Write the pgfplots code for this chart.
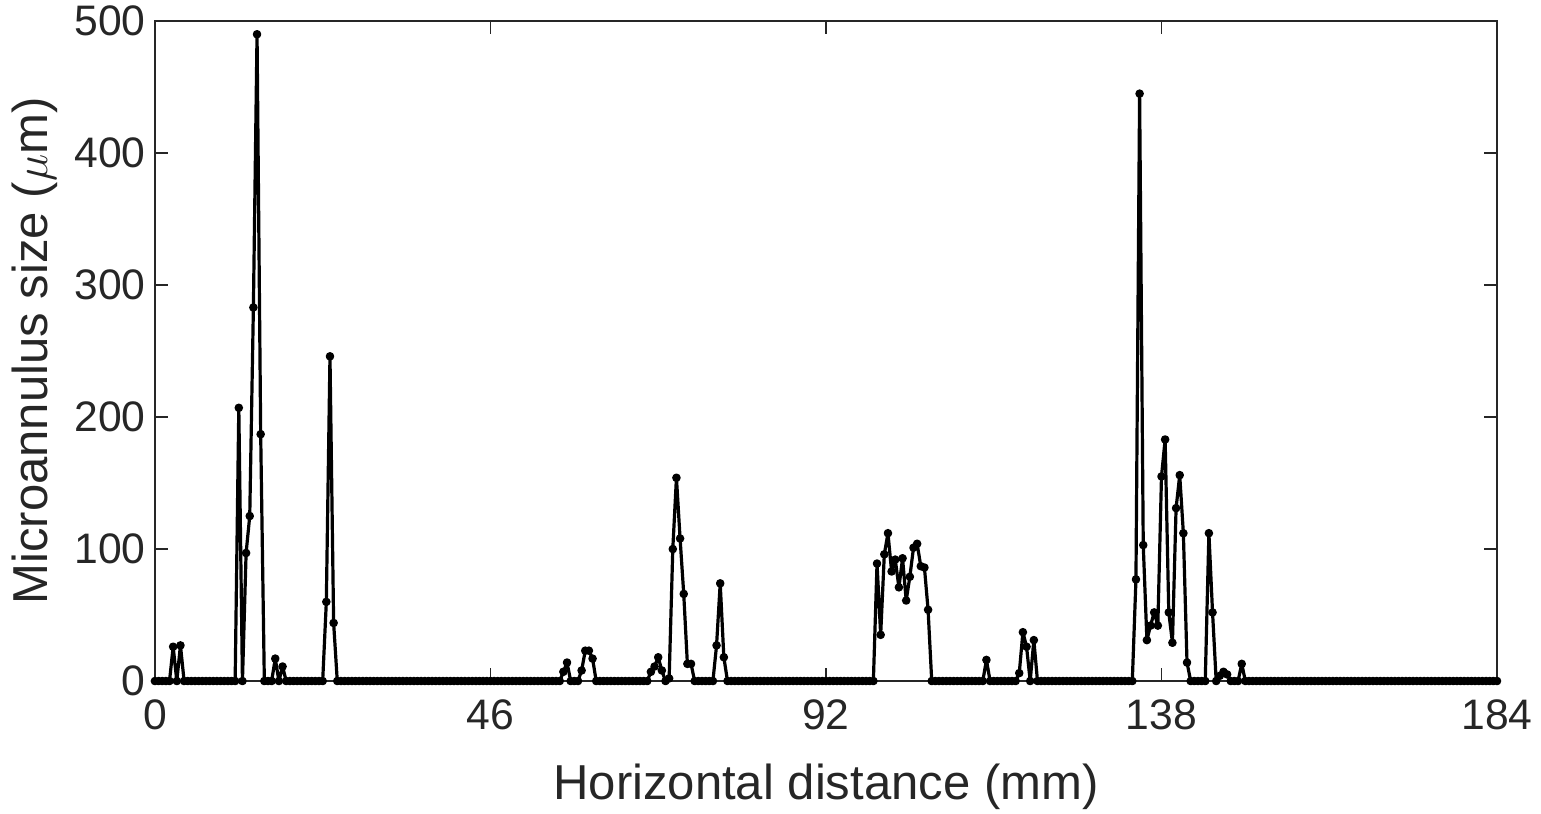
\documentclass[border=0pt]{standalone}
\usepackage{fontspec}
\setmainfont{Liberation Sans}
\usepackage{pgfplots}
\pgfplotsset{compat=1.18}
\definecolor{axgray}{rgb}{0.15,0.15,0.15}
\begin{document}
\begin{tikzpicture}
\begin{axis}[name=ax, scale only axis, width=503.3pt, height=247.5pt,
  xmin=0, xmax=184, ymin=0, ymax=500,
  xtick={0,46,92,138,184}, ytick={0,100,200,300,400,500},
  tick align=inside, major tick length=5pt,
  axis line style={axgray, line width=0.5pt},
  tick style={axgray, line width=0.5pt},
  every tick label/.append style={font=\fontsize{16}{19}\selectfont, text=axgray},
  /pgf/number format/assume math mode=true,
  xlabel={Horizontal distance (mm)},
  ylabel={Microannulus size ($\mu$m)},
  label style={font=\fontsize{18.4}{22}\selectfont, text=axgray},
  xlabel style={at={(axis description cs:0.5,-0.180)}, anchor=base},
  ylabel style={at={(axis description cs:-0.0894,0.5)}, anchor=center},
  xticklabel style={yshift=-3.5pt},
  clip=false,
]
\addplot[black, line width=1.2pt, line join=round, mark=*, mark size=1.3pt, mark options={fill=black, line width=0.6pt}] coordinates {
(0,0)(0.5,0)(1,0)(1.5,0)(2,0)(2.5,26)(3,0)(3.5,27)(4,0)(4.5,0)
(5,0)(5.5,0)(6,0)(6.5,0)(7,0)(7.5,0)(8,0)(8.5,0)(9,0)(9.5,0)
(10,0)(10.5,0)(11,0)(11.5,207)(12,0)(12.5,97)(13,125)(13.5,283)(14,490)(14.5,187)
(15,0)(15.5,0)(16,0)(16.5,17)(17,0)(17.5,11)(18,0)(18.5,0)(19,0)(19.5,0)
(20,0)(20.5,0)(21,0)(21.5,0)(22,0)(22.5,0)(23,0)(23.5,60)(24,246)(24.5,44)
(25,0)(25.5,0)(26,0)(26.5,0)(27,0)(27.5,0)(28,0)(28.5,0)(29,0)(29.5,0)
(30,0)(30.5,0)(31,0)(31.5,0)(32,0)(32.5,0)(33,0)(33.5,0)(34,0)(34.5,0)
(35,0)(35.5,0)(36,0)(36.5,0)(37,0)(37.5,0)(38,0)(38.5,0)(39,0)(39.5,0)
(40,0)(40.5,0)(41,0)(41.5,0)(42,0)(42.5,0)(43,0)(43.5,0)(44,0)(44.5,0)
(45,0)(45.5,0)(46,0)(46.5,0)(47,0)(47.5,0)(48,0)(48.5,0)(49,0)(49.5,0)
(50,0)(50.5,0)(51,0)(51.5,0)(52,0)(52.5,0)(53,0)(53.5,0)(54,0)(54.5,0)
(55,0)(55.5,0)(56,7)(56.5,14)(57,0)(57.5,0)(58,0)(58.5,8)(59,23)(59.5,23)
(60,17)(60.5,0)(61,0)(61.5,0)(62,0)(62.5,0)(63,0)(63.5,0)(64,0)(64.5,0)
(65,0)(65.5,0)(66,0)(66.5,0)(67,0)(67.5,0)(68,7)(68.5,11)(69,18)(69.5,8)
(70,0)(70.5,2)(71,100)(71.5,154)(72,108)(72.5,66)(73,13)(73.5,13)(74,0)(74.5,0)
(75,0)(75.5,0)(76,0)(76.5,0)(77,27)(77.5,74)(78,18)(78.5,0)(79,0)(79.5,0)
(80,0)(80.5,0)(81,0)(81.5,0)(82,0)(82.5,0)(83,0)(83.5,0)(84,0)(84.5,0)
(85,0)(85.5,0)(86,0)(86.5,0)(87,0)(87.5,0)(88,0)(88.5,0)(89,0)(89.5,0)
(90,0)(90.5,0)(91,0)(91.5,0)(92,0)(92.5,0)(93,0)(93.5,0)(94,0)(94.5,0)
(95,0)(95.5,0)(96,0)(96.5,0)(97,0)(97.5,0)(98,0)(98.5,0)(99,89)(99.5,35)
(100,96)(100.5,112)(101,83)(101.5,92)(102,71)(102.5,93)(103,61)(103.5,79)(104,101)(104.5,104)
(105,87)(105.5,86)(106,54)(106.5,0)(107,0)(107.5,0)(108,0)(108.5,0)(109,0)(109.5,0)
(110,0)(110.5,0)(111,0)(111.5,0)(112,0)(112.5,0)(113,0)(113.5,0)(114,16)(114.5,0)
(115,0)(115.5,0)(116,0)(116.5,0)(117,0)(117.5,0)(118,0)(118.5,6)(119,37)(119.5,26)
(120,0)(120.5,31)(121,0)(121.5,0)(122,0)(122.5,0)(123,0)(123.5,0)(124,0)(124.5,0)
(125,0)(125.5,0)(126,0)(126.5,0)(127,0)(127.5,0)(128,0)(128.5,0)(129,0)(129.5,0)
(130,0)(130.5,0)(131,0)(131.5,0)(132,0)(132.5,0)(133,0)(133.5,0)(134,0)(134.5,77)
(135,445)(135.5,103)(136,31)(136.5,42)(137,52)(137.5,42)(138,155)(138.5,183)(139,52)(139.5,29)
(140,131)(140.5,156)(141,112)(141.5,14)(142,0)(142.5,0)(143,0)(143.5,0)(144,0)(144.5,112)
(145,52)(145.5,0)(146,4)(146.5,7)(147,5)(147.5,0)(148,0)(148.5,0)(149,13)(149.5,0)
(150,0)(150.5,0)(151,0)(151.5,0)(152,0)(152.5,0)(153,0)(153.5,0)(154,0)(154.5,0)
(155,0)(155.5,0)(156,0)(156.5,0)(157,0)(157.5,0)(158,0)(158.5,0)(159,0)(159.5,0)
(160,0)(160.5,0)(161,0)(161.5,0)(162,0)(162.5,0)(163,0)(163.5,0)(164,0)(164.5,0)
(165,0)(165.5,0)(166,0)(166.5,0)(167,0)(167.5,0)(168,0)(168.5,0)(169,0)(169.5,0)
(170,0)(170.5,0)(171,0)(171.5,0)(172,0)(172.5,0)(173,0)(173.5,0)(174,0)(174.5,0)
(175,0)(175.5,0)(176,0)(176.5,0)(177,0)(177.5,0)(178,0)(178.5,0)(179,0)(179.5,0)
(180,0)(180.5,0)(181,0)(181.5,0)(182,0)(182.5,0)(183,0)(183.5,0)(184,0)
};
\end{axis}
\pgfresetboundingbox
\path ([shift={(-58.1pt,-49.5pt)}]ax.south west) rectangle ([shift={(16.5pt,7.9pt)}]ax.north east);
\end{tikzpicture}
\end{document}
